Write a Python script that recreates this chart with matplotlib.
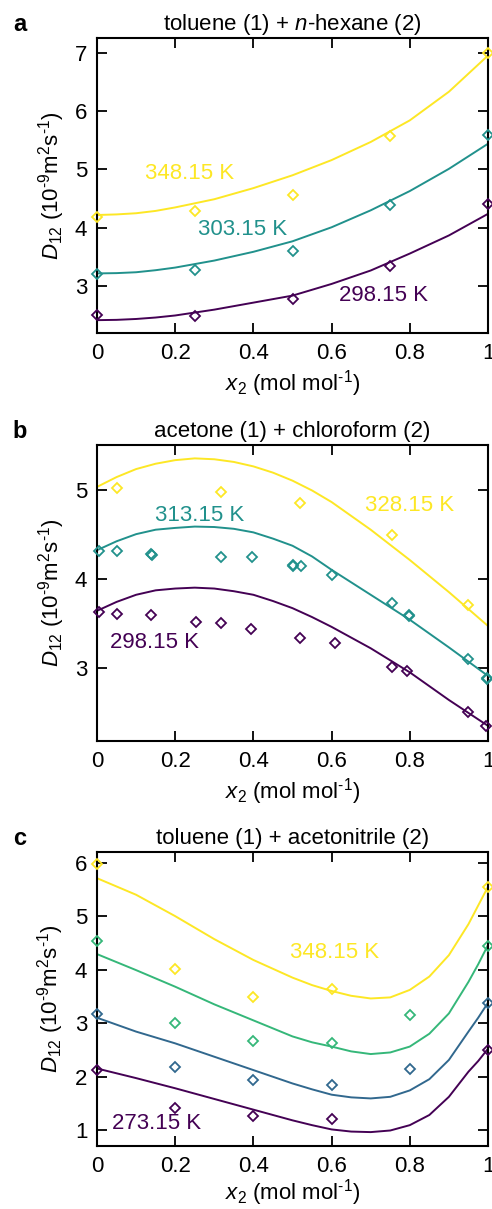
import matplotlib
matplotlib.use("Agg")
import matplotlib.pyplot as plt

plt.rcParams['font.family'] = ['Liberation Sans', 'DejaVu Sans']
plt.rcParams['mathtext.fontset'] = 'custom'
plt.rcParams['mathtext.rm'] = 'Liberation Sans'
plt.rcParams['mathtext.it'] = 'Liberation Sans:italic'

# colours (viridis)
purple = '#440154'
teal = '#21918c'
blue = '#31688e'
green = '#35b779'
yellow = '#fde725'

# ---- panel a: toluene (1) + n-hexane (2)
a_x = [0, 0.25, 0.5, 0.75, 1.0]
a_298 = [2.51, 2.49, 2.79, 3.35, 4.40]
a_303 = [3.21, 3.28, 3.60, 4.39, 5.59]
a_348 = [4.18, 4.28, 4.57, 5.58, 7.00]
a_fit_x = [0, 0.05, 0.1, 0.15, 0.2, 0.3, 0.4, 0.5, 0.6, 0.7, 0.8, 0.9, 1.0]
a_fit_298 = [2.42, 2.425, 2.44, 2.465, 2.50, 2.60, 2.72, 2.84, 3.04, 3.27, 3.56, 3.87, 4.24]
a_fit_303 = [3.22, 3.225, 3.24, 3.275, 3.32, 3.44, 3.59, 3.77, 4.01, 4.30, 4.63, 5.01, 5.44]
a_fit_348 = [4.22, 4.23, 4.25, 4.29, 4.35, 4.49, 4.68, 4.90, 5.16, 5.47, 5.84, 6.33, 6.95]

# ---- panel b: acetone (1) + chloroform (2)
b_x_298 = [0.005, 0.051, 0.137, 0.253, 0.316, 0.395, 0.519, 0.608, 0.755, 0.794, 0.950, 0.994]
b_298 = [3.63, 3.60, 3.59, 3.52, 3.50, 3.44, 3.33, 3.28, 3.01, 2.96, 2.50, 2.35]
b_x_313 = [0.005, 0.051, 0.137, 0.140, 0.316, 0.396, 0.500, 0.502, 0.521, 0.601,
           0.755, 0.797, 0.799, 0.950, 0.997, 0.998]
b_313 = [4.31, 4.31, 4.28, 4.27, 4.24, 4.24, 4.15, 4.14, 4.14, 4.04,
         3.73, 3.59, 3.58, 3.10, 2.89, 2.87]
b_x_328 = [0.051, 0.316, 0.519, 0.755, 0.950]
b_328 = [5.02, 4.97, 4.85, 4.49, 3.71]
b_fit_x = [0, 0.05, 0.1, 0.15, 0.2, 0.25, 0.3, 0.35, 0.4, 0.45, 0.5, 0.55, 0.6,
           0.7, 0.8, 0.9, 1.0]
b_fit_298 = [3.64, 3.74, 3.82, 3.87, 3.89, 3.90, 3.89, 3.86, 3.82, 3.75, 3.67, 3.57, 3.46,
             3.22, 2.95, 2.64, 2.35]
b_fit_313 = [4.32, 4.42, 4.50, 4.55, 4.57, 4.585, 4.58, 4.56, 4.52, 4.45, 4.37, 4.25, 4.10,
             3.82, 3.54, 3.23, 2.91]
b_fit_328 = [5.03, 5.14, 5.23, 5.29, 5.33, 5.35, 5.34, 5.31, 5.26, 5.19, 5.10, 4.99, 4.86,
             4.55, 4.21, 3.85, 3.47]

# ---- panel c: toluene (1) + acetonitrile (2)
c_x5 = [0, 0.2, 0.4, 0.6, 1.0]
c_x6 = [0, 0.2, 0.4, 0.6, 0.8, 1.0]
c_273 = [2.12, 1.42, 1.26, 1.21, 2.49]
c_blue = [3.17, 2.18, 1.93, 1.85, 2.14, 3.38]
c_green = [4.53, 3.01, 2.66, 2.63, 3.16, 4.45]
c_348 = [5.97, 4.02, 3.48, 3.64, 5.55]
c_fit_x = [0, 0.1, 0.2, 0.3, 0.4, 0.5, 0.55, 0.6, 0.65, 0.7, 0.75, 0.8, 0.85, 0.9,
           0.95, 0.975, 1.0]
c_fit_273 = [2.15, 1.97, 1.78, 1.58, 1.38, 1.18, 1.09, 1.01, 0.97, 0.96, 0.99, 1.09, 1.28,
             1.62, 2.09, 2.29, 2.52]
c_fit_blue = [3.10, 2.84, 2.62, 2.37, 2.12, 1.87, 1.76, 1.66, 1.61, 1.59, 1.62, 1.74, 1.95,
              2.31, 2.84, 3.10, 3.38]
c_fit_green = [4.29, 3.99, 3.68, 3.35, 3.05, 2.75, 2.64, 2.56, 2.47, 2.42, 2.45, 2.56, 2.80,
               3.18, 3.77, 4.10, 4.46]
c_fit_348 = [5.71, 5.40, 5.00, 4.57, 4.18, 3.85, 3.71, 3.60, 3.51, 3.46, 3.48, 3.62, 3.87,
             4.27, 4.85, 5.20, 5.55]

xticks = [0, 0.2, 0.4, 0.6, 0.8, 1.0]
xticklabels = ['0', '0.2', '0.4', '0.6', '0.8', '1']
fs = 16

fig = plt.figure(figsize=(4.92, 12.09), dpi=100)
left, width = 97 / 492, 391 / 492
ax_a = fig.add_axes([left, 1 - 333 / 1209, width, 295 / 1209])
ax_b = fig.add_axes([left, 1 - 741 / 1209, width, 296 / 1209])
ax_c = fig.add_axes([left, 1 - 1146 / 1209, width, 294 / 1209])


def points(ax, x, y, c):
    ax.plot(x, y, 'D', mfc='none', mec=c, ms=5.3, mew=1.3, clip_on=False, zorder=3)


def fit(ax, x, y, c):
    ax.plot(x, y, '-', color=c, lw=1.4, zorder=2, solid_joinstyle='round')


def style(ax, title, letter, xpad=3):
    ax.set_xlim(0, 1)
    ax.set_xticks(xticks)
    ax.set_xticklabels(xticklabels)
    ax.tick_params(direction='in', top=True, right=True, length=7, width=1.3,
                   labelsize=fs, pad=7)
    for s in ax.spines.values():
        s.set_linewidth(1.5)
    ax.set_title(title, fontsize=fs, pad=6)
    ax.set_xlabel(r'$x_2$ (mol mol$^{\text{-1}}$)', fontsize=fs, labelpad=xpad)
    ax.set_ylabel(r'$D_{\mathrm{12}}$ (10$^{\text{-9}}$m$^{\mathrm{2}}$s$^{\text{-1}}$)',
                  fontsize=fs, labelpad=6)
    pos = ax.get_position()
    fig.text(0.026, pos.y1 + 7 / 1209, letter, fontsize=17, fontweight='bold',
             va='baseline', ha='left')


# panel a
for y, fy, c in [(a_298, a_fit_298, purple), (a_303, a_fit_303, teal), (a_348, a_fit_348, yellow)]:
    fit(ax_a, a_fit_x, fy, c)
    points(ax_a, a_x, y, c)
ax_a.set_ylim(2.2, 7.25)
ax_a.set_yticks([3, 4, 5, 6, 7])
ax_a.text(0.122, 4.93, '348.15 K', color=yellow, fontsize=fs, va='center')
ax_a.text(0.259, 3.97, '303.15 K', color=teal, fontsize=fs, va='center')
ax_a.text(0.62, 2.84, '298.15 K', color=purple, fontsize=fs, va='center')
style(ax_a, r'toluene (1) + $n$-hexane (2)', 'a')

# panel b
fit(ax_b, b_fit_x, b_fit_298, purple)
fit(ax_b, b_fit_x, b_fit_313, teal)
fit(ax_b, b_fit_x, b_fit_328, yellow)
points(ax_b, b_x_298, b_298, purple)
points(ax_b, b_x_313, b_313, teal)
points(ax_b, b_x_328, b_328, yellow)
ax_b.set_ylim(2.18, 5.5)
ax_b.set_yticks([3, 4, 5])
ax_b.text(0.686, 4.82, '328.15 K', color=yellow, fontsize=fs, va='center')
ax_b.text(0.148, 4.71, '313.15 K', color=teal, fontsize=fs, va='center')
ax_b.text(0.034, 3.28, '298.15 K', color=purple, fontsize=fs, va='center')
style(ax_b, 'acetone (1) + chloroform (2)', 'b')

# panel c
fit(ax_c, c_fit_x, c_fit_273, purple)
fit(ax_c, c_fit_x, c_fit_blue, blue)
fit(ax_c, c_fit_x, c_fit_green, green)
fit(ax_c, c_fit_x, c_fit_348, yellow)
points(ax_c, c_x5, c_273, purple)
points(ax_c, c_x6, c_blue, blue)
points(ax_c, c_x6, c_green, green)
points(ax_c, c_x5, c_348, yellow)
ax_c.set_ylim(0.7, 6.2)
ax_c.set_yticks([1, 2, 3, 4, 5, 6])
ax_c.text(0.494, 4.32, '348.15 K', color=yellow, fontsize=fs, va='center')
ax_c.text(0.039, 1.12, '273.15 K', color=purple, fontsize=fs, va='center')
style(ax_c, 'toluene (1) + acetonitrile (2)', 'c', xpad=0)

fig.savefig('out.png', dpi=100)
